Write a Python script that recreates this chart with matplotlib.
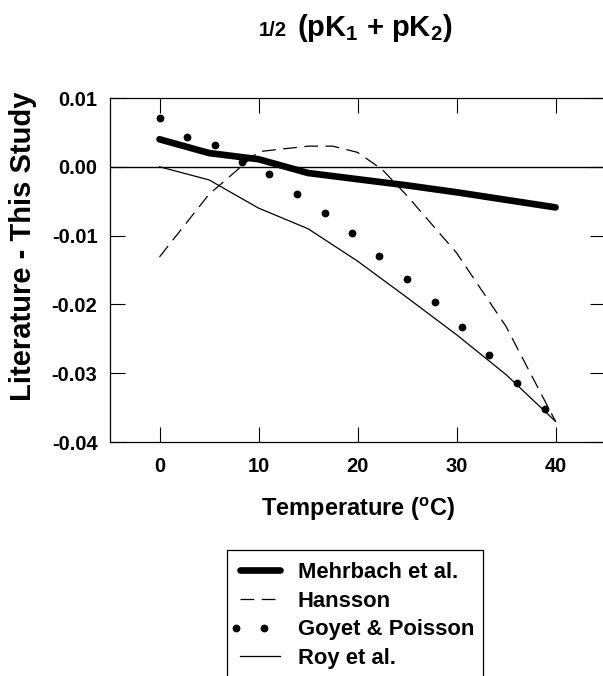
import matplotlib
matplotlib.use("Agg")
import numpy as np
import matplotlib.pyplot as plt
from matplotlib.legend_handler import HandlerLine2D
from matplotlib.patches import Rectangle

plt.rcParams['font.family'] = ['Liberation Sans', 'DejaVu Sans']
plt.rcParams['font.weight'] = 'bold'
plt.rcParams['mathtext.fontset'] = 'custom'
plt.rcParams['mathtext.rm'] = 'Liberation Sans:bold'
plt.rcParams['mathtext.bf'] = 'Liberation Sans:bold'
plt.rcParams['mathtext.it'] = 'Liberation Sans:bold'

# Data
mehrbach_t = [0, 5, 10, 15, 20, 25, 30, 35, 40]
mehrbach_v = [0.0040, 0.0020, 0.0011, -0.0009, -0.0018, -0.0027, -0.0037, -0.0048, -0.0059]

hansson_t = [0, 5, 10, 15, 17.5, 20, 22.5, 25, 30, 35, 40]
hansson_v = [-0.0131, -0.0040, 0.0022, 0.0030, 0.0030, 0.0021, -0.0004, -0.0042,
             -0.0125, -0.0232, -0.0370]

goyet_t = [0.0, 2.78, 5.56, 8.33, 11.11, 13.89, 16.67, 19.44, 22.22, 25.0, 27.78, 30.56, 33.33, 36.11, 38.89]
goyet_v = [0.0071, 0.0043, 0.0032, 0.0007, -0.0010, -0.0039, -0.0067, -0.0096, -0.0129,
           -0.0163, -0.0196, -0.0233, -0.0274, -0.0314, -0.0352]

roy_t = [0, 5, 10, 15, 20, 25, 30, 35, 40]
roy_v = [0.0, -0.0019, -0.0060, -0.0090, -0.0137, -0.0190, -0.0244, -0.0302, -0.0370]

xticks = [0, 10, 20, 30, 40]
yticks = [0.01, 0.00, -0.01, -0.02, -0.03, -0.04]
ytick_labels = ['0.01', '0.00', '-0.01', '-0.02', '-0.03', '-0.04']

W, H = 603, 676
fig = plt.figure(figsize=(W / 100, H / 100), dpi=100)
ax = fig.add_axes([110 / W, 1 - 442 / H, (605 - 110) / W, (442 - 98) / H])

ax.axhline(0, color='black', lw=1.0, zorder=1)
ax.plot(mehrbach_t, mehrbach_v, color='black', lw=4.8, solid_capstyle='round',
        label='Mehrbach et al.', zorder=3)
ax.plot(hansson_t, hansson_v, color='black', lw=0.9, dashes=(11, 6),
        label='Hansson', zorder=2)
ax.plot(goyet_t, goyet_v, linestyle='none', marker='o', ms=4.6, color='black',
        label='Goyet & Poisson', zorder=4)
ax.plot(roy_t, roy_v, color='black', lw=0.9, label='Roy et al.', zorder=2)

ax.set_xlim(-5, 45)
ax.set_ylim(-0.04, 0.01)
ax.set_xticks(xticks)
ax.set_xticklabels([str(t) for t in xticks])
ax.set_yticks(yticks)
ax.set_yticklabels(ytick_labels)
ax.tick_params(direction='in', length=11, width=0.8, top=True, right=True,
               labelsize=14.5)
ax.tick_params(axis='x', pad=11)
ax.tick_params(axis='y', pad=9)
for s in ax.spines.values():
    s.set_linewidth(0.9)

# Axis labels placed like the reference
fig.text(23 / W, 1 - 246 / H, 'Literature - This Study', rotation=90,
         ha='center', va='center', fontsize=21, fontweight='bold')
fig.text(358 / W, 1 - 516 / H, 'Temperature ($^\\mathregular{o}$C)',
         ha='center', va='baseline', fontsize=17, fontweight='bold')

# Title
fig.text(259 / W, 1 - 35.5 / H, '1/2', ha='left', va='baseline',
         fontsize=14.5, fontweight='bold')
fig.text(297 / W, 1 - 35.5 / H, '(pK$_\\mathregular{1}$ + pK$_\\mathregular{2}$)',
         ha='left', va='baseline', fontsize=21, fontweight='bold')


class DotHandler(HandlerLine2D):
    def get_xdata(self, legend, xdescent, ydescent, width, height, fontsize):
        xd = np.array([-xdescent + 0.055 * width, -xdescent + 0.57 * width])
        return xd, xd


handles, labels = ax.get_legend_handles_labels()
leg = ax.legend(handles, labels, loc='upper left',
                bbox_to_anchor=(233 / W, 1 - 562 / H),
                bbox_transform=fig.transFigure, borderaxespad=0,
                fontsize=15.8, frameon=False,
                handlelength=2.45, handletextpad=0.5, labelspacing=0.35,
                borderpad=0, numpoints=2,
                handler_map={handles[2]: DotHandler()})
for t in leg.get_texts():
    t.set_fontweight('bold')

# Legend frame (open at bottom, cropped like the reference)
fig.patches.append(Rectangle((227 / W, -0.05), (483 - 227) / W, (1 - 550 / H) + 0.05,
                             transform=fig.transFigure, fill=False,
                             edgecolor='black', lw=0.9))

fig.savefig('out.png', dpi=100)
